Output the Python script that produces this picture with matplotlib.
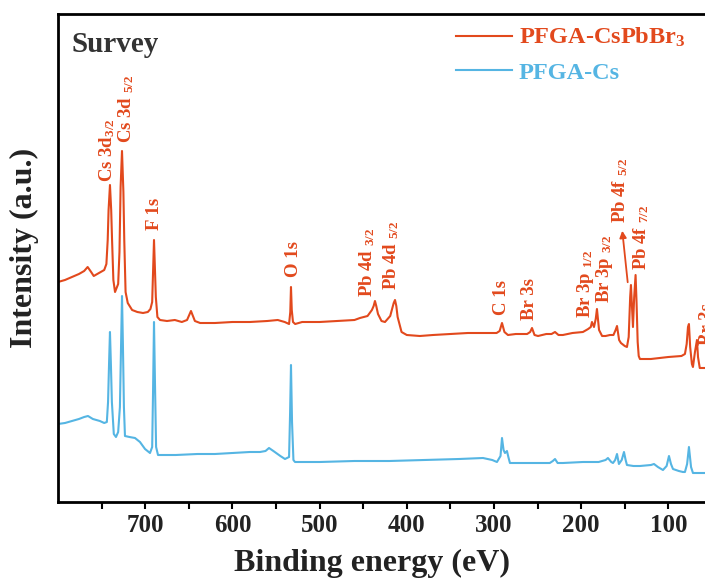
import matplotlib
matplotlib.use("Agg")
import matplotlib.pyplot as plt

plt.rcParams["font.family"] = ["Liberation Serif", "DejaVu Serif"]
plt.rcParams["font.weight"] = "bold"
plt.rcParams["mathtext.default"] = "regular"

# ---------------- data ----------------
# binding energy (eV) / intensity (a.u.) for PFGA-CsPbBr3
red_ev = [800, 792, 784, 776, 770, 766, 762, 759, 753, 747, 744.5, 743, 742, 740.4, 739,
          738, 736.5, 734.6, 731, 729.5, 728.2, 726.6, 725, 724, 722.5, 720, 715, 709, 702.5,
          697, 694, 692, 690.9, 689.9, 689, 687.8, 686, 683, 675, 666, 658, 652, 647.5, 643,
          637, 620, 600, 580, 560, 548, 540, 535, 533.6, 532.8, 531.9, 530.5, 528, 520, 500,
          480, 460, 453.7, 445, 440, 438, 436.5, 435, 433, 429, 425, 419, 416.5, 415, 413.5,
          412, 410.5, 406, 400, 385, 370, 350, 330, 310, 297, 293.5, 290.8, 288, 284, 275,
          262, 258.5, 256.4, 253.5, 249.5, 240, 234, 230, 226, 221, 210, 198, 192, 189,
          187.6, 185.3, 183.3, 181.9, 179.5, 176, 172, 167, 163, 160.5, 158.9, 156.5,
          154.4, 150, 147.5, 145.5, 143.8, 142.9, 142, 140.6, 139.2, 137.6, 136.5, 135.2,
          134, 132.6, 120, 100, 85, 81, 79, 77.5, 76.4, 75, 73, 71.8, 69.5, 67.2, 66, 64,
          62, 30]
red_int = [220, 222, 225, 228, 231, 235, 230, 226, 229, 232, 238, 262, 292, 317, 292,
           262, 222, 210, 218, 250, 315, 351, 310, 262, 210, 199, 192, 190, 189,
           190, 193, 200, 232, 262, 238, 205, 185, 182, 181, 182, 180, 182, 191, 181,
           179, 179, 180, 180, 181, 182, 180, 178, 190, 215, 192, 180, 178, 180, 180,
           181, 182, 184, 186, 192, 196, 201, 196, 188, 181, 180, 186, 194, 199, 202,
           196, 185, 170, 167, 166, 167, 168, 169, 169, 169, 171, 179, 170, 167, 168,
           168, 170, 174, 167, 166, 168, 168, 170, 167, 167, 169, 170, 173, 175,
           180, 175, 183, 193, 172, 166, 166, 167, 167, 172, 176, 162,
           159, 156, 155, 165, 205, 217, 200, 175, 205, 227, 200, 160,
           146, 143, 143, 145, 146, 148, 158, 175, 178, 155, 138, 135, 150, 162, 145, 134,
           134, 134]

# binding energy (eV) / intensity (a.u.) for PFGA-Cs
blue_ev = [800, 792, 784, 776, 770, 765.6, 760, 752, 747, 744, 742.6, 741.4, 740.4, 739.4,
           738.2, 736, 733.5, 731, 729, 727.6, 726.6, 725.6, 724.4, 723.2, 718, 711.7, 706,
           700.2, 694.5, 692, 691, 689.9, 688.8, 687.5, 685.3, 683, 665, 640, 620, 600, 580,
           568.3, 562, 558, 553, 545, 539.7, 535, 533.8, 532.8, 531.6, 530, 528.2, 500, 460,
           420, 380, 340, 312.6, 302, 296.6, 292.5, 290.8, 289, 287.4, 285.1, 283.5, 281.7,
           270, 250, 236, 232.5, 230, 227, 220.9, 198, 180, 172, 169.3, 165.5, 163.5, 161,
           158.9, 156.7, 153.5, 150.9, 149, 147.5, 140, 132.6, 120, 116.5, 112, 106.2, 102,
           99.3, 97, 94.7, 88, 83.3, 81, 78.5, 76.4, 74, 71.8, 65, 30]
blue_int = [78, 79, 81, 83, 85, 86, 83, 81, 79, 80, 100, 140, 170, 140,
            100, 68, 65, 70, 95, 160, 206, 160, 95, 66, 65, 64, 60,
            53, 49, 55, 110, 180, 120, 55, 47, 47, 47, 48, 48, 49, 50,
            50, 51, 54, 51, 46, 43, 45, 90, 137, 80, 42, 40, 40, 41,
            41, 42, 43, 44, 42, 40, 46, 64, 52, 49, 51, 45, 39,
            39, 39, 39, 41, 43, 39, 39, 40, 40, 42, 44, 40, 39, 42,
            48, 38, 42, 50, 42, 37, 36, 36, 37, 38, 35, 32, 36,
            46, 38, 33, 31, 30, 30, 38, 55, 35, 29, 29, 29]

# peak labels: text, energy (eV), intensity at the label's lower end
peak_labels = [r"Cs 3d$_{3/2}$", r"Cs 3d $_{5/2}$", "F 1s", "O 1s",
               r"Pb 4d $_{3/2}$", r"Pb 4d $_{5/2}$", "C 1s", "Br 3s",
               r"Br 3p $_{1/2}$", r"Br 3p $_{3/2}$", r"Pb 4f $_{5/2}$",
               r"Pb 4f $_{7/2}$", "Br 3s"]
label_ev = [743.2, 721.4, 688.8, 530, 445.1, 418.1, 291.4, 259.3,
            195.6, 172.7, 155, 130.9, 54.6]
label_int = [320, 359, 272, 225, 205, 212, 187, 182, 184, 199, 279, 232, 157]

x_major = [700, 600, 500, 400, 300, 200, 100]
x_minor = [750, 650, 550, 450, 350, 250, 150, 50]

RED = "#E2491D"
BLUE = "#55B5E3"

# ---------------- figure ----------------
fig = plt.figure(figsize=(7.05, 5.84), dpi=100)
ax = fig.add_axes([58 / 705, 82 / 584, 671.4 / 705, 488 / 584])

ax.plot(red_ev, red_int, color=RED, lw=1.5, label=r"PFGA-CsPbBr$_3$")
ax.plot(blue_ev, blue_int, color=BLUE, lw=1.5, label="PFGA-Cs")

ax.set_xlim(800, 30)
ax.set_ylim(0, 488)
ax.set_xticks(x_major)
ax.set_xticks(x_minor, minor=True)
ax.tick_params(axis="x", which="both", direction="out", length=5, width=1.5,
               labelsize=18, labelcolor="#222222", pad=4)
ax.set_yticks([])
for side in ["left", "top", "bottom"]:
    ax.spines[side].set_linewidth(2)
ax.spines["right"].set_visible(False)

for txt, x, y in zip(peak_labels, label_ev, label_int):
    ax.text(x, y, txt, rotation=90, ha="center", va="bottom", color=RED,
            fontsize=13.5, fontweight="bold", clip_on=False)

# arrow pointing from the Pb 4f 5/2 peak up to its label
ax.annotate("", xy=(153.2, 274), xytext=(146.3, 217),
            arrowprops=dict(arrowstyle="-|>", color=RED, lw=1.3, mutation_scale=10))

ax.text(0.02, 0.965, "Survey", transform=ax.transAxes, ha="left", va="top",
        fontsize=21, fontweight="bold", color="#333333")

leg = ax.legend(loc="upper left", bbox_to_anchor=(0.567, 1.01), frameon=False,
                fontsize=17.5, handlelength=2.3, handletextpad=0.3, labelspacing=0.5,
                borderaxespad=0.3)
for t, c in zip(leg.get_texts(), [RED, BLUE]):
    t.set_color(c)
    t.set_fontweight("bold")

fig.text(371.5 / 705, 1 - 563 / 584, "Binding energy (eV)", ha="center", va="center",
         fontsize=23, fontweight="bold", color="#222222")
fig.text(24 / 705, 1 - 248 / 584, "Intensity (a.u.)", rotation=90, ha="center",
         va="center", fontsize=23, fontweight="bold", color="#222222")

fig.savefig("out.png", dpi=100)
